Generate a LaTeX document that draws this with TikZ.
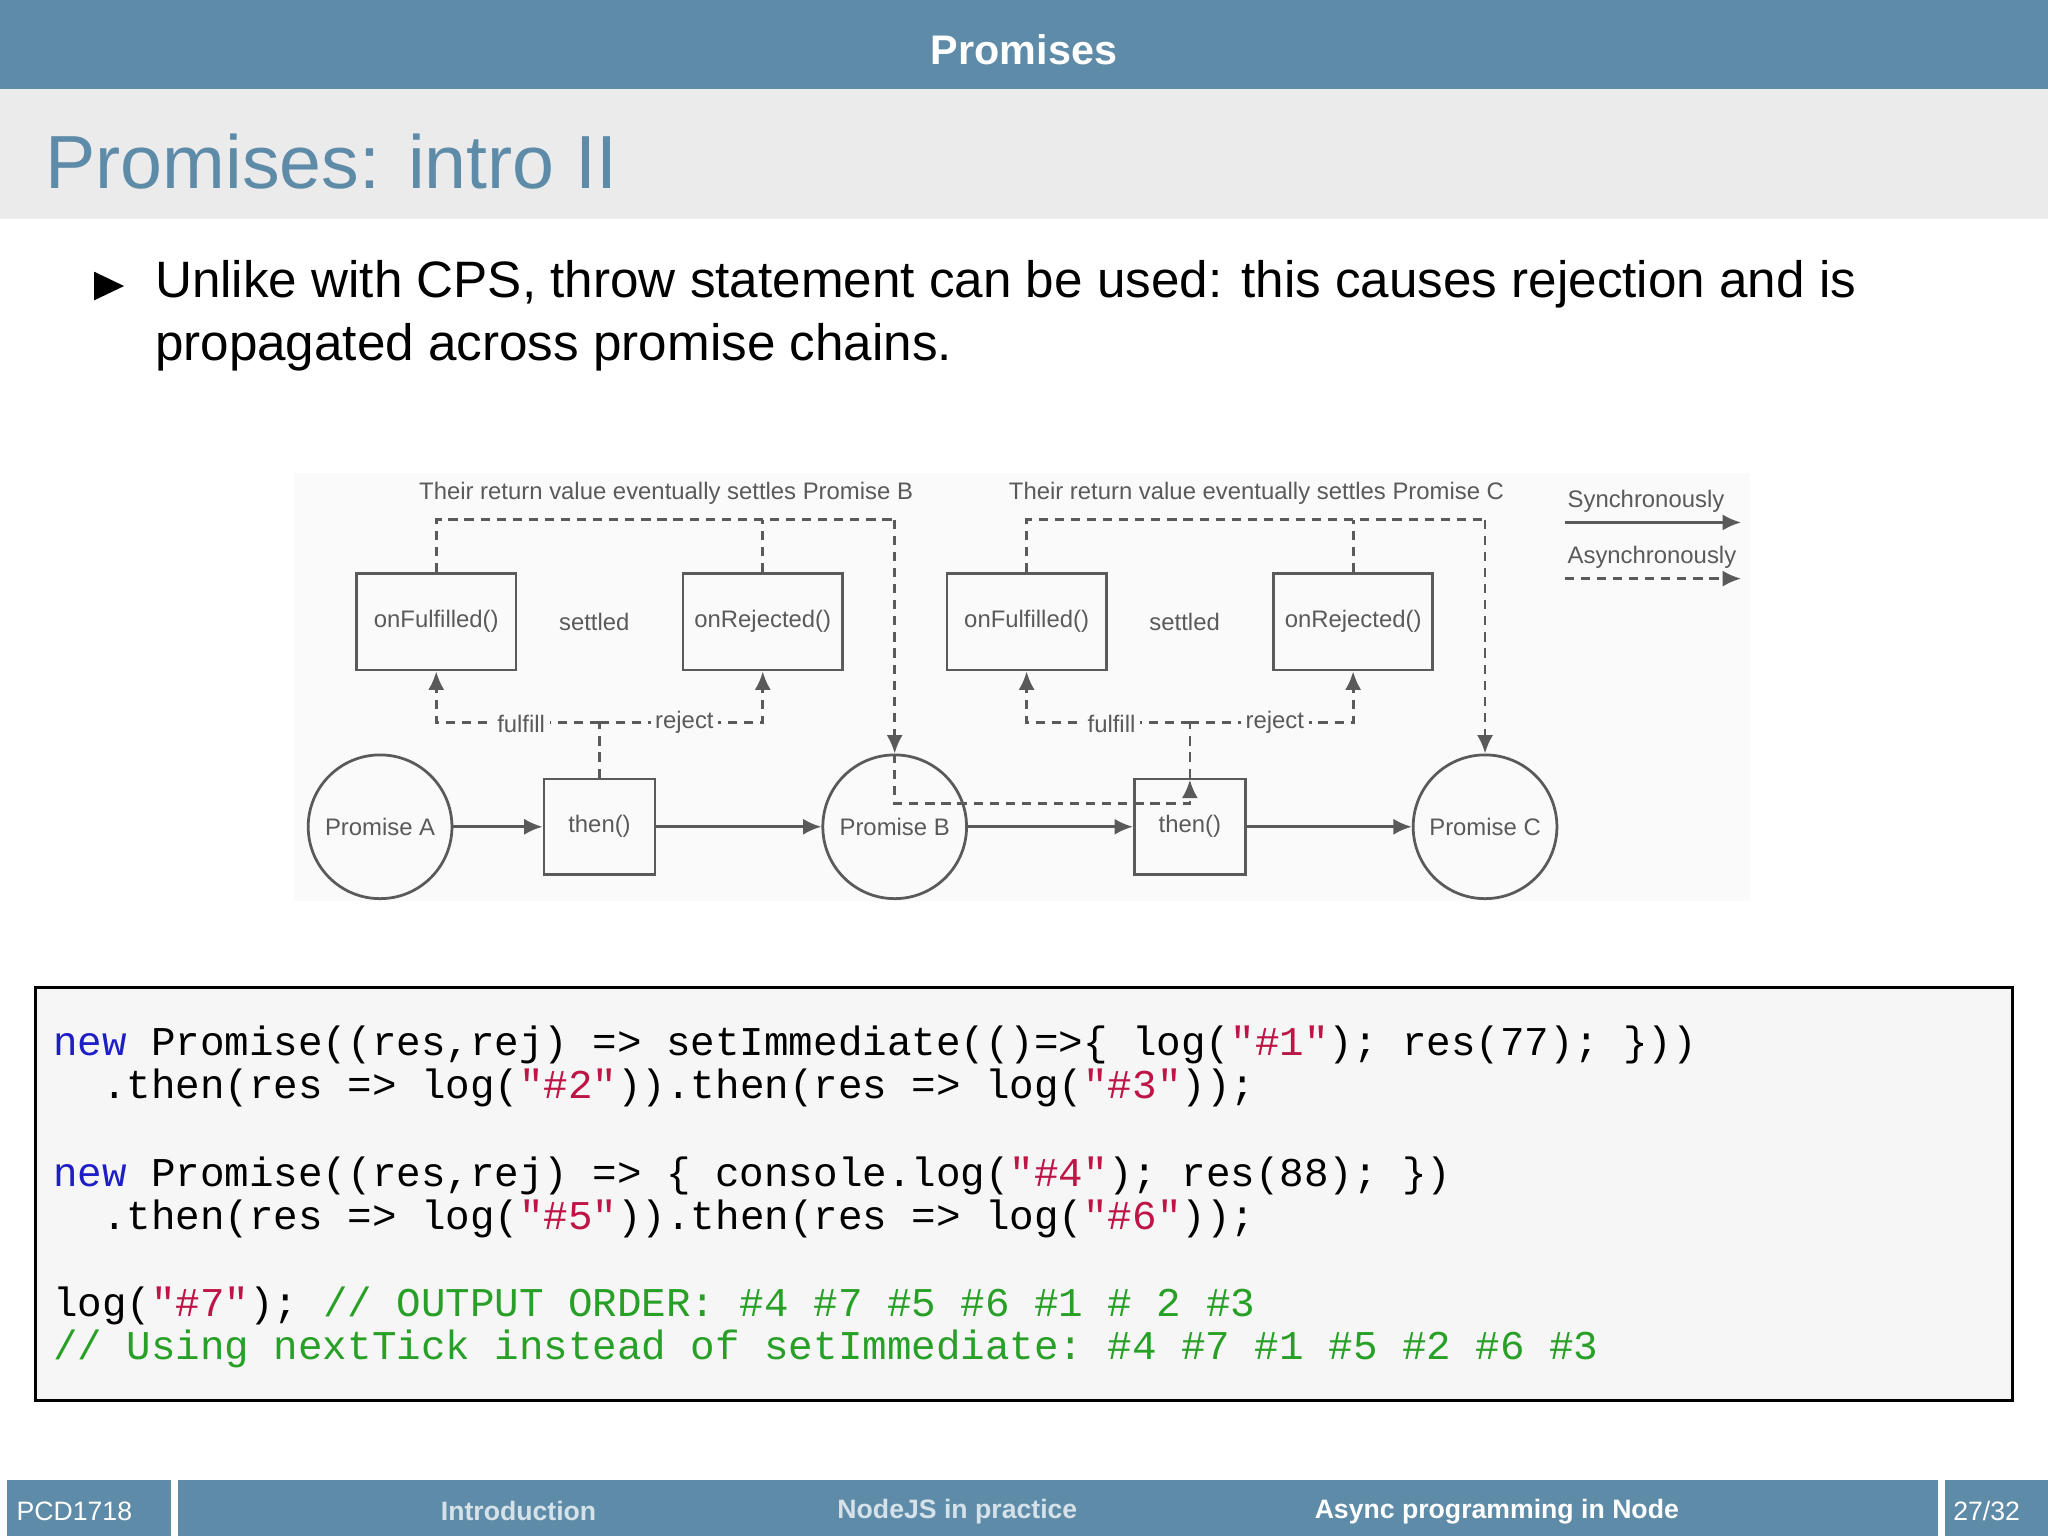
\documentclass[tikz,border=0pt]{standalone}
\usepackage{fontspec}
\setmainfont{Liberation Sans}
\setsansfont{Liberation Sans}
\setmonofont{Liberation Mono}
\usetikzlibrary{arrows.meta}
\definecolor{bar}{RGB}{93,139,168}
\definecolor{band}{RGB}{235,235,235}
\definecolor{kw}{RGB}{30,30,200}
\definecolor{str}{RGB}{190,20,70}
\definecolor{cmt}{RGB}{40,160,40}
\definecolor{dg}{RGB}{90,90,90}
\tikzset{
 dbox/.style={draw=dg,line width=0.6pt,minimum width=1.22cm,minimum height=0.74cm,inner sep=1pt,font=\fontsize{5.2}{6}\selectfont,text=dg},
 tbox/.style={draw=dg,line width=0.6pt,minimum width=0.85cm,minimum height=0.73cm,inner sep=1pt,font=\fontsize{5.2}{6}\selectfont,text=dg},
 circ/.style={draw=dg,line width=0.6pt,circle,minimum size=1.1cm,inner sep=0pt,font=\fontsize{5.2}{6}\selectfont,text=dg},
 lbl/.style={font=\fontsize{5.2}{6}\selectfont,text=dg,inner sep=1pt},
 sarr/.style={draw=dg,line width=0.6pt,-{Latex[length=4pt,width=3.5pt]}},
 darr/.style={draw=dg,line width=0.6pt,dashed,dash pattern=on 2pt off 1.5pt,-{Latex[length=4pt,width=3.5pt]}},
 dline/.style={draw=dg,line width=0.6pt,dash pattern=on 2pt off 1.5pt},
 code/.style={anchor=west,inner sep=0pt,font=\ttfamily\fontsize{8.9}{10}\selectfont},
}
\begin{document}
\begin{tikzpicture}[x=0.01cm,y=-0.01cm]
\useasboundingbox (0,0) rectangle (1568,1176);
\fill[white] (0,0) rectangle (1568,1176);
% header
\fill[bar] (0,0) rectangle (1568,68);
\node[text=white,font=\bfseries\fontsize{9}{11}\selectfont] (hdr) at (784,38) {Promises};
\fill[band] (0,68) rectangle (1568,168);
\node[anchor=west,text=bar,font=\fontsize{16.4}{20}\selectfont,inner sep=0pt] (title) at (34,124) {Promises: intro II};
% bullet
\fill[black] (72,208) -- (95,219) -- (72,230) -- cycle;
\node[anchor=west,inner sep=0pt,font=\fontsize{11.15}{13}\selectfont] (b1) at (118,218) {Unlike with CPS, throw statement can be used: this causes rejection and is};
\node[anchor=west,inner sep=0pt,font=\fontsize{11.15}{13}\selectfont] (b2) at (118,266) {propagated across promise chains.};
% diagram background
\fill[gray!4] (225,362) rectangle (1340,690);
% nodes
\node[circ] (pa) at (291,633) {Promise A};
\node[circ] (pb) at (685,633) {Promise B};
\node[circ] (pc) at (1137,633) {Promise C};
\node[tbox] (t1) at (459,633) {then()};
\node[tbox] (t2) at (911,633) {then()};
\node[dbox] (f1) at (334,476) {onFulfilled()};
\node[dbox] (r1) at (584,476) {onRejected()};
\node[dbox] (f2) at (786,476) {onFulfilled()};
\node[dbox] (r2) at (1036,476) {onRejected()};
\node[lbl] (s1) at (455,476) {settled};
\node[lbl] (s2) at (907,476) {settled};
% solid arrows
\draw[sarr] (pa) -- (t1);
\draw[sarr] (t1) -- (pb);
\draw[sarr] (pb) -- (t2);
\draw[sarr] (t2) -- (pc);
% fulfil/reject 1
\draw[dline] (t1.north) -- (459,553);
\draw[darr] (459,553) -- (334,553) -- (f1.south);
\draw[darr] (459,553) -- (584,553) -- (r1.south);
\node[lbl,fill=gray!4] (fl1) at (399,554) {fulfill};
\node[lbl,fill=gray!4] (rj1) at (524,553) {reject};
% fulfil/reject 2
\draw[dline] (t2.north) -- (911,553);
\draw[darr] (911,553) -- (786,553) -- (f2.south);
\draw[darr] (911,553) -- (1036,553) -- (r2.south);
\node[lbl,fill=gray!4] (fl2) at (851,554) {fulfill};
\node[lbl,fill=gray!4] (rj2) at (976,553) {reject};
% top returns
\draw[dline] (f1.north) -- (334,398) -- (685,398);
\draw[dline] (r1.north) -- (584,398);
\draw[darr] (685,398) -- (pb.north);
\draw[dline] (f2.north) -- (786,398) -- (1137,398);
\draw[dline] (r2.north) -- (1036,398);
\draw[darr] (1137,398) -- (pc.north);
\node[lbl] (ret1) at (510,378) {Their return value eventually settles Promise B};
\node[lbl] (ret2) at (962,378) {Their return value eventually settles Promise C};
% B to then2 dashed
\draw[darr] (pb.north) -- (685,615) -- (911,615) -- (911,597);
% legend
\node[lbl,anchor=west] (sync) at (1196,384) {Synchronously};
\coordinate (s0) at (1198,400); \coordinate (s1e) at (1333,400);
\draw[sarr] (s0) -- (s1e);
\node[lbl,anchor=west] (async) at (1196,427) {Asynchronously};
\coordinate (a0) at (1198,443); \coordinate (a1e) at (1333,443);
\draw[darr] (a0) -- (a1e);
% code box
\draw[black,fill=gray!7,line width=0.6pt] (27,756) rectangle (1541,1072);
\node[code] (c1) at (40,800) {\textcolor{kw}{new} Promise((res,rej) => setImmediate(()=>\{ log(\textcolor{str}{"\#1"}); res(77); \}))};
\node[code] (c2) at (40,833) {\ \ .then(res => log(\textcolor{str}{"\#2"})).then(res => log(\textcolor{str}{"\#3"}));};
\node[code] (c3) at (40,900) {\textcolor{kw}{new} Promise((res,rej) => \{ console.log(\textcolor{str}{"\#4"}); res(88); \})};
\node[code] (c4) at (40,933) {\ \ .then(res => log(\textcolor{str}{"\#5"})).then(res => log(\textcolor{str}{"\#6"}));};
\node[code] (c5) at (40,1000) {log(\textcolor{str}{"\#7"}); \textcolor{cmt}{// OUTPUT ORDER: \#4 \#7 \#5 \#6 \#1 \# 2 \#3}};
\node[code] (c6) at (40,1033) {\textcolor{cmt}{// Using nextTick instead of setImmediate: \#4 \#7 \#1 \#5 \#2 \#6 \#3}};
% footer
\fill[bar] (5,1133) rectangle (131,1176);
\fill[bar] (136,1133) rectangle (1484,1176);
\fill[bar] (1489,1133) rectangle (1568,1176);
\node[anchor=west,text=white,font=\fontsize{5.8}{7}\selectfont,inner sep=0pt] (ft1) at (12,1157) {PCD1718};
\node[text=white!75!bar,font=\bfseries\fontsize{5.8}{7}\selectfont] (ft2) at (397,1157) {Introduction};
\node[text=white!75!bar,font=\bfseries\fontsize{5.8}{7}\selectfont] (ft3) at (733,1157) {NodeJS in practice};
\node[text=white,font=\bfseries\fontsize{5.8}{7}\selectfont] (ft4) at (1146,1157) {Async programming in Node};
\node[text=white,font=\fontsize{5.8}{7}\selectfont] (ft5) at (1521,1157) {27/32};
\end{tikzpicture}
\end{document}
